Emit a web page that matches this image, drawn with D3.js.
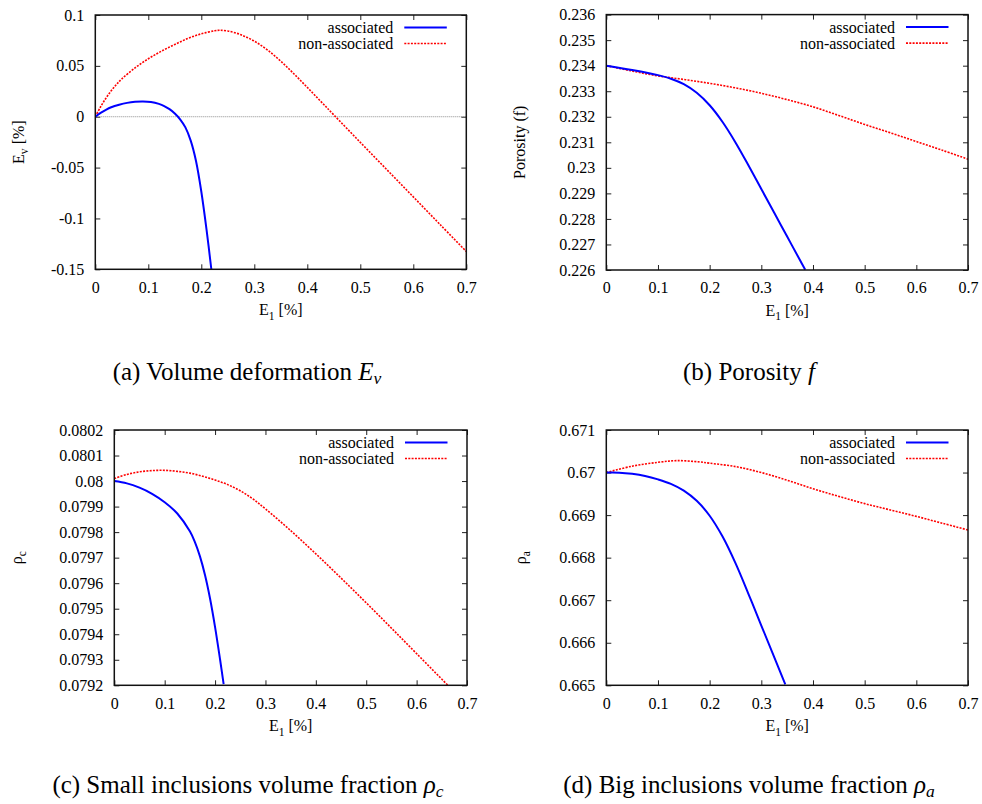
<!DOCTYPE html>
<html>
<head>
<meta charset="utf-8">
<script src="https://cdn.jsdelivr.net/npm/d3@7"></script>
<style>
  html, body { margin: 0; padding: 0; background: #fff; }
  svg { display: block; }
  text { font-family: "Liberation Serif", "Times New Roman", serif; fill: #000; }
</style>
</head>
<body>
<svg id="fig" width="982" height="804"></svg>
<script>
// Shared abscissa: axial strain E1 [%]
const xTicks = [0, 0.1, 0.2, 0.3, 0.4, 0.5, 0.6, 0.7];
const xTickLabels = ["0", "0.1", "0.2", "0.3", "0.4", "0.5", "0.6", "0.7"];

// (a) Volume deformation Ev [%]
const evTicks = [-0.15, -0.1, -0.05, 0, 0.05, 0.1];
const evTickLabels = ["-0.15", "-0.1", "-0.05", "0", "0.05", "0.1"];
const evAssociated = [[0,0],[0.01,0.0037],[0.02,0.0068],[0.03,0.0093],[0.045,0.0118],[0.06,0.0136],
  [0.075,0.0146],[0.09,0.0149],[0.105,0.0144],[0.12,0.0126],[0.13,0.0105],[0.14,0.0074],
  [0.15,0.0032],[0.16,-0.0025],[0.17,-0.0105],[0.18,-0.0235],[0.19,-0.0435],[0.2,-0.0735],
  [0.21,-0.1115],[0.219,-0.1502]];
const evNonAssociated = [[0,0],[0.01,0.0098],[0.02,0.0182],[0.03,0.0255],[0.04,0.0318],[0.05,0.0372],
  [0.075,0.048],[0.1,0.057],[0.125,0.0645],[0.15,0.071],[0.175,0.077],[0.2,0.0815],[0.225,0.0845],
  [0.234,0.085],[0.25,0.0843],[0.275,0.08055],[0.3,0.0743],[0.325,0.06555],[0.35,0.05455],
  [0.375,0.04205],[0.4,0.0288],[0.425,0.0153],[0.45,0.0018],[0.5,-0.0252],[0.55,-0.052],
  [0.6,-0.0788],[0.65,-0.1057],[0.7,-0.1325]];

// (b) Porosity f
const porosityTicks = [0.226, 0.227, 0.228, 0.229, 0.23, 0.231, 0.232, 0.233, 0.234, 0.235, 0.236];
const porosityTickLabels = ["0.226","0.227","0.228","0.229","0.23","0.231","0.232","0.233","0.234","0.235","0.236"];
const porosityAssociated = [[0,0.234],[0.05,0.23383],[0.1,0.23363],[0.125,0.23349],[0.15,0.233275],
  [0.175,0.232938],[0.2,0.23245],[0.225,0.231795],[0.25,0.230995],[0.275,0.2301],[0.3,0.22917],
  [0.325,0.22824],[0.35,0.22731],[0.375,0.22638],[0.385,0.22601]];
const porosityNonAssociated = [[0,0.234],[0.05,0.23379],[0.1,0.2336],[0.15,0.23346],[0.2,0.23331],
  [0.25,0.23313],[0.3,0.23292],[0.35,0.23267],[0.4,0.23239],[0.45,0.23205],[0.5,0.2317],
  [0.55,0.23137],[0.6,0.23103],[0.65,0.23069],[0.7,0.23034]];

// (c) Small inclusions volume fraction rho_c
const rhoCTicks = [0.0792, 0.0793, 0.0794, 0.0795, 0.0796, 0.0797, 0.0798, 0.0799, 0.08, 0.0801, 0.0802];
const rhoCTickLabels = ["0.0792","0.0793","0.0794","0.0795","0.0796","0.0797","0.0798","0.0799","0.08","0.0801","0.0802"];
const rhoCAssociated = [[0,0.08],[0.025,0.079991],[0.05,0.079974],[0.075,0.07995],[0.1,0.079917],
  [0.125,0.079873],[0.15,0.079803],[0.16,0.079761],[0.17,0.079705],[0.18,0.079632],[0.19,0.07954],
  [0.2,0.079428],[0.21,0.0793],[0.217,0.079205]];
const rhoCNonAssociated = [[0,0.08001],[0.025,0.080026],[0.05,0.080036],[0.075,0.080041],[0.1,0.080042],
  [0.125,0.080038],[0.15,0.080031],[0.175,0.080019],[0.2,0.080004],[0.225,0.079986],[0.25,0.079962],
  [0.275,0.07993],[0.3,0.079891],[0.35,0.079806],[0.4,0.079715],[0.45,0.07962],[0.5,0.079523],
  [0.55,0.079424],[0.6,0.079324],[0.662,0.0792]];

// (d) Big inclusions volume fraction rho_a
const rhoATicks = [0.665, 0.666, 0.667, 0.668, 0.669, 0.67, 0.671];
const rhoATickLabels = ["0.665","0.666","0.667","0.668","0.669","0.67","0.671"];
const rhoAAssociated = [[0,0.67],[0.025,0.669998],[0.05,0.66997],[0.075,0.66992],[0.1,0.66984],
  [0.125,0.669735],[0.15,0.669575],[0.175,0.669335],[0.2,0.668985],[0.225,0.668495],[0.25,0.66787],
  [0.275,0.66715],[0.3,0.666405],[0.3464,0.66502]];
const rhoANonAssociated = [[0,0.67],[0.05,0.67015],[0.1,0.67024],[0.137,0.67028],[0.18,0.67025],
  [0.2,0.67022],[0.25,0.67014],[0.3,0.67],[0.35,0.66982],[0.4,0.66962],[0.45,0.66944],
  [0.5,0.66927],[0.55,0.66912],[0.6,0.66897],[0.65,0.66881],[0.7,0.66865]];

const seriesNames = ["associated", "non-associated"];

const svg = d3.select("#fig");

const panels = [
  { key: "a", box: { l: 95.3, r: 466.3, t: 15, b: 269.3 }, yDomain: [-0.15, 0.1],
    yTicks: evTicks, yTickLabels: evTickLabels, assoc: evAssociated, nonAssoc: evNonAssociated,
    yLabel: [["E", ""], ["v", "sub"], [" [%]", ""]], yLabelX: 24, zeroLine: true },
  { key: "b", box: { l: 606.3, r: 968, t: 14.6, b: 270 }, yDomain: [0.226, 0.236],
    yTicks: porosityTicks, yTickLabels: porosityTickLabels, assoc: porosityAssociated, nonAssoc: porosityNonAssociated,
    yLabel: [["Porosity (f)", ""]], yLabelX: 525 },
  { key: "c", box: { l: 114.3, r: 467, t: 430, b: 685.3 }, yDomain: [0.0792, 0.0802],
    yTicks: rhoCTicks, yTickLabels: rhoCTickLabels, assoc: rhoCAssociated, nonAssoc: rhoCNonAssociated,
    yLabel: [["ρ", ""], ["c", "sub"]], yLabelX: 22 },
  { key: "d", box: { l: 606.3, r: 968, t: 430, b: 685.3 }, yDomain: [0.665, 0.671],
    yTicks: rhoATicks, yTickLabels: rhoATickLabels, assoc: rhoAAssociated, nonAssoc: rhoANonAssociated,
    yLabel: [["ρ", ""], ["a", "sub"]], yLabelX: 526 }
];

const BLUE = "#0000ff", RED = "#ff0000";
const TICK_FONT = 16;

function styleAxis(g) {
  g.select(".domain").remove();
  g.selectAll(".tick line").attr("stroke", "#222").attr("stroke-width", 1);
  g.selectAll("text")
    .attr("font-family", "Liberation Serif")
    .attr("font-size", TICK_FONT)
    .attr("fill", "#000");
}

function richText(sel, parts, size) {
  let lowered = false;
  parts.forEach(([txt, kind]) => {
    const t = sel.append("tspan").text(txt);
    if (kind === "sub") {
      t.attr("font-size", size * 0.72).attr("dy", size * 0.28);
      lowered = true;
    } else if (lowered) {
      t.attr("dy", -size * 0.28);
      lowered = false;
    }
  });
}

panels.forEach(p => {
  const { l, r, t, b } = p.box;
  const x = d3.scaleLinear().domain([0, 0.7]).range([l, r]);
  const y = d3.scaleLinear().domain(p.yDomain).range([b, t]);
  const g = svg.append("g").attr("class", "panel-" + p.key);

  g.append("clipPath").attr("id", "clip-" + p.key)
    .append("rect").attr("x", l).attr("y", t).attr("width", r - l).attr("height", b - t);

  // axes with inward ticks on all four sides
  g.append("g").attr("transform", `translate(0,${b})`)
    .call(d3.axisBottom(x).tickValues(xTicks).tickFormat((d, i) => xTickLabels[i]).tickSize(-5).tickPadding(12))
    .call(styleAxis);
  g.append("g").attr("transform", `translate(0,${t})`)
    .call(d3.axisTop(x).tickValues(xTicks).tickFormat("").tickSize(-5))
    .call(styleAxis);
  g.append("g").attr("transform", `translate(${l},0)`)
    .call(d3.axisLeft(y).tickValues(p.yTicks).tickFormat((d, i) => p.yTickLabels[i]).tickSize(-5).tickPadding(11))
    .call(styleAxis);
  g.append("g").attr("transform", `translate(${r},0)`)
    .call(d3.axisRight(y).tickValues(p.yTicks).tickFormat("").tickSize(-5))
    .call(styleAxis);

  const plot = g.append("g").attr("clip-path", `url(#clip-${p.key})`);

  if (p.zeroLine) {
    plot.append("line")
      .attr("x1", x(0)).attr("x2", x(0.7)).attr("y1", y(0)).attr("y2", y(0))
      .attr("stroke", "#8c8c8c").attr("stroke-width", 1).attr("stroke-dasharray", "1,1");
  }

  const line = d3.line().x(d => x(d[0])).y(d => y(d[1])).curve(d3.curveCatmullRom.alpha(0.5));

  plot.append("path").datum(p.nonAssoc)
    .attr("d", line).attr("fill", "none")
    .attr("stroke", RED).attr("stroke-width", 1.6).attr("stroke-dasharray", "2,1.3");
  plot.append("path").datum(p.assoc)
    .attr("d", line).attr("fill", "none")
    .attr("stroke", BLUE).attr("stroke-width", 2);

  // frame
  g.append("rect").attr("x", l).attr("y", t).attr("width", r - l).attr("height", b - t)
    .attr("fill", "none").attr("stroke", "#111").attr("stroke-width", 1.5);

  // legend
  const legend = [
    { name: seriesNames[0], color: BLUE, dash: null, w: 2 },
    { name: seriesNames[1], color: RED, dash: "2,1.3", w: 1.6 }
  ];
  legend.forEach((e, i) => {
    const ly = t + 12.5 + i * 16;
    g.append("text").attr("x", r - 73).attr("y", ly + 5.6)
      .attr("text-anchor", "end").attr("font-size", TICK_FONT).text(e.name);
    g.append("line").attr("x1", r - 62).attr("x2", r - 19.5).attr("y1", ly).attr("y2", ly)
      .attr("stroke", e.color).attr("stroke-width", e.w)
      .attr("stroke-dasharray", e.dash);
  });

  // x-axis label E1 [%]
  const xl = g.append("text").attr("x", (l + r) / 2).attr("y", b + 46)
    .attr("text-anchor", "middle").attr("font-size", TICK_FONT);
  richText(xl, [["E", ""], ["1", "sub"], [" [%]", ""]], TICK_FONT);

  // y-axis label
  const yl = g.append("text")
    .attr("transform", `translate(${p.yLabelX},${(t + b) / 2}) rotate(-90)`)
    .attr("text-anchor", "middle").attr("font-size", TICK_FONT);
  richText(yl, p.yLabel, TICK_FONT);
});

// sub-figure captions
const CAP = 25;
const captions = [
  { x: 247, y: 380, parts: [["(a) Volume deformation ", "r"], ["E", "i"], ["v", "isub"]] },
  { x: 749, y: 380, parts: [["(b) Porosity ", "r"], ["f", "i"]] },
  { x: 248, y: 793, parts: [["(c) Small inclusions volume fraction ", "r"], ["ρ", "i"], ["c", "isub"]] },
  { x: 749, y: 793, parts: [["(d) Big inclusions volume fraction ", "r"], ["ρ", "i"], ["a", "isub"]] }
];
captions.forEach(c => {
  const tx = svg.append("text").attr("x", c.x).attr("y", c.y)
    .attr("text-anchor", "middle").attr("font-size", CAP);
  c.parts.forEach(([txt, kind]) => {
    const s = tx.append("tspan").text(txt);
    if (kind.startsWith("i")) s.attr("font-style", "italic");
    if (kind === "isub") s.attr("font-size", CAP * 0.7).attr("dy", CAP * 0.15);
  });
});
</script>
</body>
</html>
